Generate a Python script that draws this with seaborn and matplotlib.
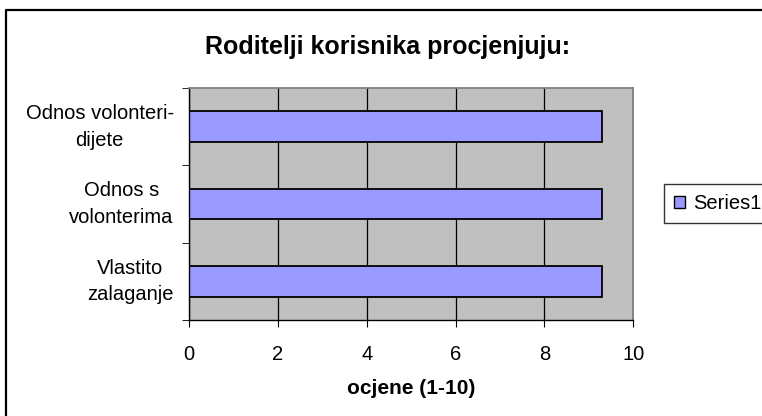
import pandas as pd
import seaborn as sns
import matplotlib.pyplot as plt
from matplotlib.patches import Rectangle
from matplotlib.lines import Line2D

categories = ["Odnos volonteri-\ndijete", "Odnos s\nvolonterima", "Vlastito\nzalaganje"]
values = [9.3, 9.3, 9.3]
series_name = "Series1"
x_ticks = [0, 2, 4, 6, 8, 10]

df = pd.DataFrame({"category": categories, "value": values})

plt.rcParams["font.family"] = ["Liberation Sans", "DejaVu Sans"]

fig = plt.figure(figsize=(7.62, 4.16), dpi=100)
ax = fig.add_axes([0.248, 0.231, 0.583, 0.557])

sns.barplot(
    data=df,
    x="value",
    y="category",
    orient="h",
    color="#9999FF",
    edgecolor="black",
    linewidth=1.3,
    width=0.4,
    saturation=1,
    ax=ax,
)

ax.set_facecolor("#C0C0C0")
ax.set_xlim(0, 10)
ax.set_ylim(2.5, -0.5)
ax.set_xticks(x_ticks)
ax.set_xticklabels([str(t) for t in x_ticks])
ax.xaxis.grid(True, color="black", linewidth=0.9)
ax.set_axisbelow(True)

# category labels right-aligned blocks, centred lines; tick marks at category boundaries
ax.set_yticks(range(len(categories)))
ax.set_yticklabels(categories, fontsize=14.5, ha="right", va="center",
                   multialignment="center", linespacing=1.5)
ax.tick_params(axis="y", which="major", length=0, pad=11)
ax.set_yticks([-0.5, 0.5, 1.5, 2.5], minor=True)
ax.tick_params(axis="y", which="minor", length=5, color="black")
ax.tick_params(axis="x", length=5, color="black", labelsize=14.5, pad=13)

ax.set_xlabel("ocjene (1-10)", fontsize=15, fontweight="bold", labelpad=11)
ax.set_ylabel("")

for side in ["top", "right"]:
    ax.spines[side].set_color("#808080")
    ax.spines[side].set_linewidth(1.3)
for side in ["left", "bottom"]:
    ax.spines[side].set_color("black")
    ax.spines[side].set_linewidth(1.0)

fig.text(0.508, 0.887, "Roditelji korisnika procjenjuju:", ha="center", va="center",
         fontsize=18, fontweight="bold")

handle = Rectangle((0, 0), 1, 1, facecolor="#9999FF", edgecolor="black", linewidth=1)
fig.legend([handle], [series_name], loc="center left", bbox_to_anchor=(0.871, 0.51),
           fontsize=14.5, frameon=True, fancybox=False, edgecolor="black",
           handlelength=0.55, handleheight=0.55, handletextpad=0.4, borderpad=0.5,
           borderaxespad=0)

# chart-area border (only top and left are inside the picture)
fig.lines.append(Line2D([0.0085, 0.0085, 1.0], [0.0, 0.976, 0.976],
                        transform=fig.transFigure, color="black", linewidth=1.6))

fig.savefig("out.png", dpi=100, facecolor="white")
